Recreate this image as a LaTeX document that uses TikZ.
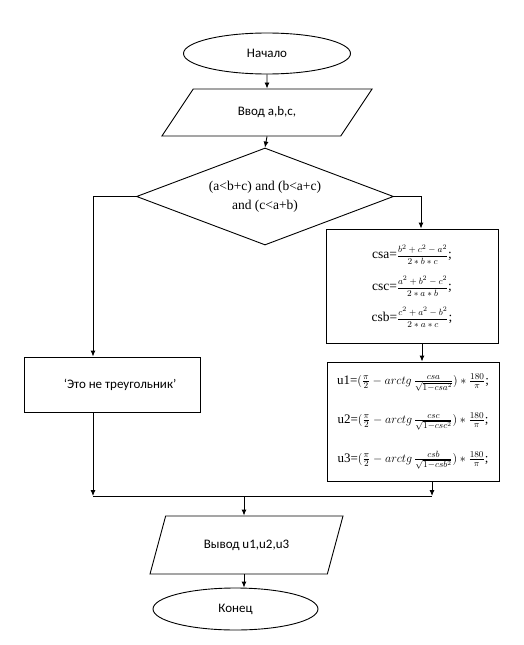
\documentclass[tikz,border=0pt]{standalone}
\usepackage{fontspec}
\setmainfont{Liberation Serif}
\newfontfamily\calib{Carlito}
\usetikzlibrary{shapes.geometric,arrows.meta}

\newcommand\drob[2]{{\fontsize{9.5}{11}\selectfont$\displaystyle\frac{#1}{#2}$}}

\tikzset{
  blok/.style={draw, line width=0.9pt, font=\calib\fontsize{13}{15}\selectfont},
  term/.style={blok, ellipse, inner sep=0pt},
  vvodvyvod/.style={blok, trapezium, trapezium stretches=true, inner sep=0pt},
  uslovie/.style={blok, diamond, aspect=2.65, inner sep=0pt,
    font=\fontsize{13.5}{19}\selectfont, align=center},
  deistvie/.style={blok, rectangle, inner sep=0pt, align=center},
  strelka/.style={line width=0.9pt, -{Latex[length=6pt,width=5pt]}},
  liniya/.style={line width=0.9pt}
}

\begin{document}
\begin{tikzpicture}[x=1pt, y=-1pt, line join=miter]
  \useasboundingbox (0,0) rectangle (524,645);

  \node[term, minimum width=167pt, minimum height=41pt] (nachalo) at (267,53.5) {Начало};
  \node[vvodvyvod, trapezium left angle=42, trapezium right angle=138,
        minimum width=211pt, minimum height=47pt] (vvod) at (267,112.5) {Ввод a,b,c,};
  \node[uslovie, minimum width=257pt, minimum height=97pt] (usl) at (265,196.5)
        {(a<b+c) and (b<a+c)\\and (c<a+b)};

  % ветка "нет"
  \node[deistvie, minimum width=176pt, minimum height=55pt] (net) at (112,384.5)
        {\hspace*{16pt}‘Это не треугольник’};

  % ветка "да"
  \node[deistvie, minimum width=172pt, minimum height=114pt,
        font=\fontsize{13.5}{15}\selectfont] (blokcs) at (412,286)
        {csa=\drob{b^2+c^2-a^2}{2*b*c};\\[10pt]
         csc=\drob{a^2+b^2-c^2}{2*a*b};\\[10pt]
         csb=\drob{c^2+a^2-b^2}{2*a*c};};
  \node[deistvie, minimum width=172pt, minimum height=119pt,
        font=\fontsize{13}{15}\selectfont] (bloku) at (413,421.5)
        {u1=$(\frac{\pi}{2}-arctg\,\frac{csa}{\sqrt{1-csa^2}})*\frac{180}{\pi}$;\\[20pt]
         u2=$(\frac{\pi}{2}-arctg\,\frac{csc}{\sqrt{1-csc^2}})*\frac{180}{\pi}$;\\[20pt]
         u3=$(\frac{\pi}{2}-arctg\,\frac{csb}{\sqrt{1-csb^2}})*\frac{180}{\pi}$;};

  \node[vvodvyvod, trapezium left angle=52, trapezium right angle=128,
        minimum width=193pt, minimum height=58pt] (vyvod) at (246.5,545) {Вывод u1,u2,u3};
  \node[term, minimum width=165pt, minimum height=42pt] (konec) at (235.5,609) {Конец};

  % точки слияния
  \coordinate (slL) at (93,496);
  \coordinate (slC) at (244,496);
  \coordinate (slR) at (432,496);

  \draw[strelka] (nachalo.south) -- (vvod.north);
  \draw[strelka] (vvod.south) -- (usl.north);
  \draw[strelka] (usl.west) -| ([xshift=-19pt]net.north);
  \draw[strelka] (usl.east) -| ([xshift=9pt]blokcs.north);
  \draw[strelka] ([xshift=10pt]blokcs.south) -- ([xshift=9pt]bloku.north);
  \draw[strelka] ([xshift=-19pt]net.south) -- (slL);
  \draw[strelka] ([xshift=19pt]bloku.south) -- (slR);
  \draw[liniya] (slL) -- (slR);
  \draw[strelka] (slC) -- (slC |- vyvod.north);
  \draw[strelka] (vyvod.south -| slC) -- (konec.north -| slC);
\end{tikzpicture}
\end{document}
